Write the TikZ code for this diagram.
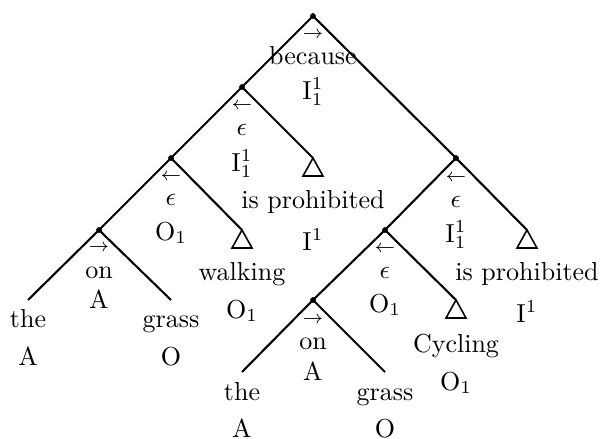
\documentclass[tikz,border=0pt]{standalone}
\usepackage{amsmath}
\begin{document}
\begin{tikzpicture}[x=0.3846pt,y=-0.3846pt,
  edge/.style={line width=0.8pt},
  tri/.style={line width=0.6pt},
  lab/.style={anchor=base,inner sep=0pt,font=\fontsize{10}{12}\selectfont},
  arr/.style={anchor=center,inner sep=0pt,font=\scriptsize}]
\useasboundingbox (0,0) rectangle (600,439);
% tree points
\coordinate (r) at (313,16);
\coordinate (a) at (242,87);
\coordinate (b) at (171,158);
\coordinate (c) at (99,230);
\coordinate (d) at (456,158);
\coordinate (e) at (385,230);
\coordinate (f) at (313,300);
\coordinate (l1) at (28,300);
\coordinate (l2) at (171,300);
\coordinate (l3) at (242,372);
\coordinate (l4) at (385,372);
\coordinate (t1) at (313,158);
\coordinate (t2) at (242,230);
\coordinate (t3) at (527,230);
\coordinate (t4) at (456,300);
% edges
\draw[edge] (r) -- (a);
\draw[edge] (r) -- (d);
\draw[edge] (a) -- (b);
\draw[edge] (a) -- (t1);
\draw[edge] (b) -- (c);
\draw[edge] (b) -- (t2);
\draw[edge] (c) -- (l1);
\draw[edge] (c) -- (l2);
\draw[edge] (d) -- (e);
\draw[edge] (d) -- (t3);
\draw[edge] (e) -- (f);
\draw[edge] (e) -- (t4);
\draw[edge] (f) -- (l3);
\draw[edge] (f) -- (l4);
% triangles
\foreach \t in {t1,t2,t3,t4}
  \draw[tri] (\t) -- ++(-10,18) -- ++(20,0) -- cycle;
% dots
\foreach \p in {r,a,b,c,d,e,f}
  \fill (\p) circle[radius=1.1pt];
% labels root
\node[arr] (r1) at (313,35) {$\rightarrow$};
\node[lab] (r2) at (313,64) {because};
\node[lab] (r3) at (313,99) {$\mathrm{I}^1_1$};
% a
\node[arr] (a1) at (242,106) {$\leftarrow$};
\node[lab] (a2) at (242,135) {$\epsilon$};
\node[lab] (a3) at (242,171) {$\mathrm{I}^1_1$};
% b
\node[arr] (b1) at (171,177) {$\leftarrow$};
\node[lab] (b2) at (171,205) {$\epsilon$};
\node[lab] (b3) at (171,240) {$\mathrm{O}_1$};
% c
\node[arr] (c1) at (99,248) {$\rightarrow$};
\node[lab] (c2) at (99,278) {on};
\node[lab] (c3) at (99,308) {A};
% d
\node[arr] (d1) at (456,178) {$\leftarrow$};
\node[lab] (d2) at (456,207) {$\epsilon$};
\node[lab] (d3) at (456,242) {$\mathrm{I}^1_1$};
% e
\node[arr] (e1) at (385,249) {$\leftarrow$};
\node[lab] (e2) at (385,278) {$\epsilon$};
\node[lab] (e3) at (385,312) {$\mathrm{O}_1$};
% f
\node[arr] (f1) at (313,320) {$\rightarrow$};
\node[lab] (f2) at (313,349) {on};
\node[lab] (f3) at (313,380) {A};
% triangles labels
\node[lab] (t1a) at (313,208) {is prohibited};
\node[lab] (t1b) at (313,250) {$\mathrm{I}^1$};
\node[lab] (t2a) at (242,280) {walking};
\node[lab] (t2b) at (242,318) {$\mathrm{O}_1$};
\node[lab] (t3a) at (527,280) {is prohibited};
\node[lab] (t3b) at (527,322) {$\mathrm{I}^1$};
\node[lab] (t4a) at (456,352) {Cycling};
\node[lab] (t4b) at (456,390) {$\mathrm{O}_1$};
% leaves
\node[lab] (l1a) at (28,327) {the};
\node[lab] (l1b) at (28,365) {A};
\node[lab] (l2a) at (171,327) {grass};
\node[lab] (l2b) at (171,365) {O};
\node[lab] (l3a) at (242,400) {the};
\node[lab] (l3b) at (242,437) {A};
\node[lab] (l4a) at (385,400) {grass};
\node[lab] (l4b) at (385,437) {O};
\end{tikzpicture}
\end{document}
